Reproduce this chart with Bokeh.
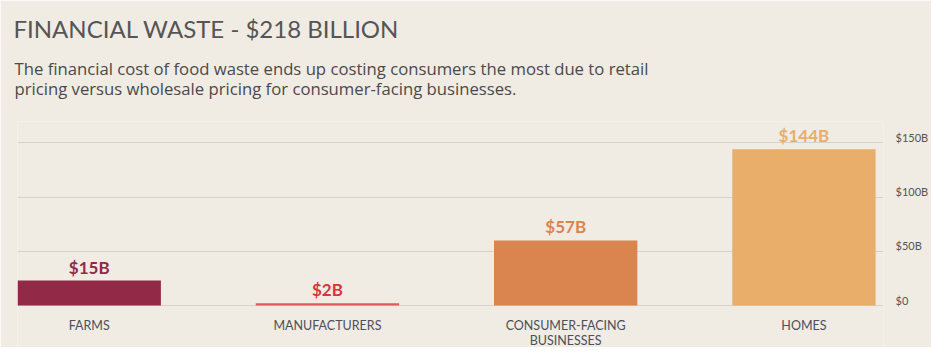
from bokeh.plotting import figure
from bokeh.models import Range1d, FixedTicker, Title
from bokeh.embed import file_html
from bokeh.resources import INLINE
from bokeh.core.properties import value

# ---- data ----
categories = ["FARMS", "MANUFACTURERS", "CONSUMER-FACING\nBUSINESSES", "HOMES"]
bar_heights = [23, 2, 60, 144]          # drawn heights ($B)
value_labels = ["$15B", "$2B", "$57B", "$144B"]
bar_colors = ["#922A47", "#E0595C", "#DA8450", "#E8AE6A"]
label_colors = ["#922A47", "#D9343A", "#DA8450", "#E8AE6A"]
y_ticks = [0, 50, 100, 150]
y_tick_labels = ["$0", "$50B", "$100B", "$150B"]

title_text = "FINANCIAL WASTE - $218 BILLION"
subtitle_lines = [
    "The financial cost of food waste ends up costing consumers the most due to retail",
    "pricing versus wholesale pricing for consumer-facing businesses.",
]

BG = "#F0EBE3"
FONT = "Lato"

xs = list(range(len(categories)))
baseline = [0] * len(categories)
# tick labels sit slightly above their grid lines in the reference
LABEL_LIFT = 5
label_ticks = [t + LABEL_LIFT for t in y_ticks]

p = figure(
    width=931, height=347,
    x_range=Range1d(-0.301, 3.334), y_range=Range1d(-38.7, 169.6),
    y_axis_location="right", x_axis_location=None,
    output_backend="svg", toolbar_location=None,
    background_fill_color=BG, border_fill_color=BG,
    min_border_left=17, min_border_right=44, min_border_bottom=0, min_border_top=121,
    outline_line_color=None,
)

p.vbar(x=xs, top=bar_heights, width=0.6017, bottom=0,
       fill_color=bar_colors, line_color=None)

# value labels above bars
p.text(x=xs, y=bar_heights, text=value_labels, text_color=label_colors,
       text_align="center", text_baseline="bottom", y_offset=-3,
       text_font=value(FONT), text_font_size="17px", text_font_style="bold")

# category labels below the zero line
p.text(x=xs, y=baseline, text=categories, text_color="#4B505C",
       text_align="center", text_baseline="top", y_offset=12,
       text_font=value(FONT), text_font_size="12.5px", text_line_height=1.05)

# y axis (right)
p.yaxis.ticker = FixedTicker(ticks=label_ticks)
p.yaxis.major_label_overrides = {t: l for t, l in zip(label_ticks, y_tick_labels)}
p.yaxis.axis_line_color = None
p.yaxis.major_tick_line_color = None
p.yaxis.minor_tick_line_color = None
p.yaxis.major_tick_out = 0
p.yaxis.major_tick_in = 0
p.yaxis.major_label_standoff = 12
p.yaxis.major_label_text_font = FONT
p.yaxis.major_label_text_font_size = "11px"
p.yaxis.major_label_text_color = "#555555"

p.xgrid.grid_line_color = None
p.ygrid.ticker = FixedTicker(ticks=y_ticks)
p.ygrid.grid_line_color = "#D6D1C9"
p.ygrid.grid_line_width = 1

# titles (added closest-to-frame first); first one is an invisible spacer
p.add_layout(Title(text=" ", text_font=FONT, text_font_size="1px",
                   standoff=11), "above")
p.add_layout(Title(text="\n".join(subtitle_lines), text_font="Open Sans",
                   text_font_size="16.7px", text_line_height=0.89,
                   text_font_style="normal", text_color="#4A4A4A", align="left",
                   offset=-3, standoff=14), "above")
p.add_layout(Title(text=title_text, text_font=FONT, text_font_size="24px",
                   text_font_style="normal", text_color="#555555", align="left",
                   offset=-4, standoff=11), "above")

open("out.html", "w").write(file_html(p, INLINE))
